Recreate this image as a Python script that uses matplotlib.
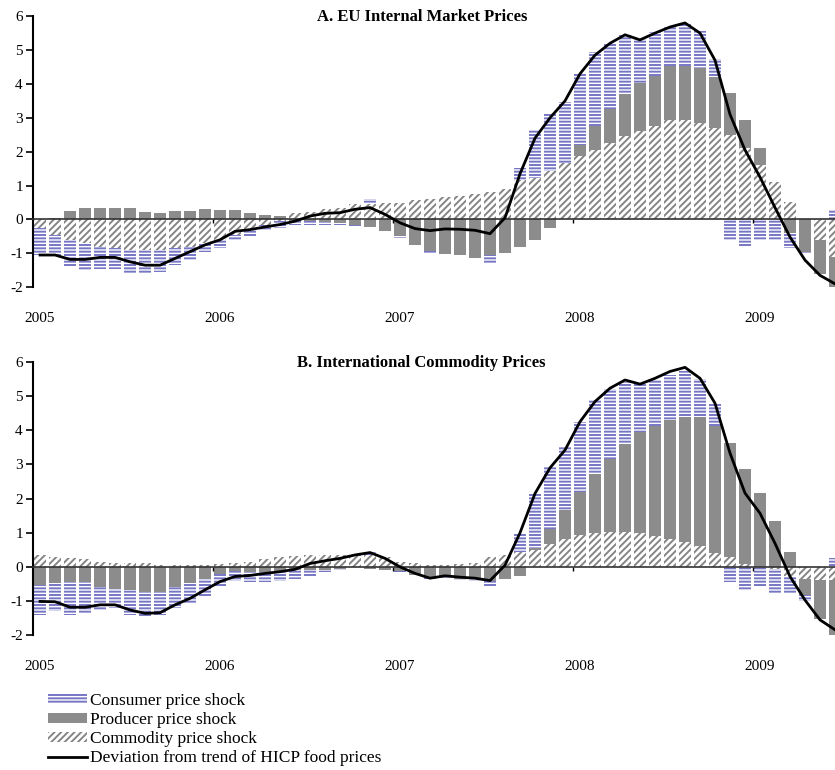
import numpy as np
import matplotlib.pyplot as plt
import matplotlib.transforms as mtransforms
from matplotlib.patches import Patch
from matplotlib.lines import Line2D

plt.rcParams['font.family'] = ['Liberation Serif', 'DejaVu Serif']
plt.rcParams['axes.unicode_minus'] = False
plt.rcParams['hatch.linewidth'] = 1.4

# monthly data, Jan 2005 .. Jun 2009
months = np.arange(54)
years = ['2005', '2006', '2007', '2008', '2009']

# Panel A: EU internal market prices
a_comm = [-0.25, -0.45, -0.6, -0.7, -0.8, -0.85, -0.9, -0.9, -0.9, -0.85,
          -0.8, -0.7, -0.6, -0.45, -0.3, -0.15, -0.05, 0.18, 0.22, 0.3,
          0.35, 0.45, 0.45, 0.5, 0.5, 0.58, 0.6, 0.65, 0.7, 0.75,
          0.82, 0.9, 1.17, 1.22, 1.42, 1.66, 1.86, 2.06, 2.26, 2.45,
          2.6, 2.75, 2.95, 2.95, 2.85, 2.7, 2.5, 2.1, 1.6, 1.1,
          0.52, 0.0, -0.6, -1.1]
a_prod = [0.0, 0.05, 0.25, 0.33, 0.33, 0.33, 0.33, 0.22, 0.2, 0.25,
          0.25, 0.3, 0.28, 0.28, 0.2, 0.12, 0.1, -0.05, -0.05, -0.08,
          -0.1, -0.15, -0.22, -0.35, -0.48, -0.75, -0.92, -1.02, -1.05, -1.15,
          -1.05, -1.0, -0.8, -0.6, -0.25, 0.0, 0.34, 0.7, 1.0, 1.25,
          1.44, 1.49, 1.58, 1.58, 1.63, 1.49, 1.24, 0.85, 0.5, 0.0,
          -0.4, -0.96, -1.0, -1.0]
a_cons = [-0.8, -0.6, -0.8, -0.8, -0.65, -0.6, -0.68, -0.7, -0.65, -0.5,
          -0.4, -0.25, -0.25, -0.15, -0.2, -0.15, -0.2, -0.12, -0.1, -0.08,
          -0.07, -0.03, 0.15, 0.0, -0.07, 0.0, -0.08, 0.0, 0.0, 0.0,
          -0.25, -0.03, 0.35, 1.43, 1.68, 1.8, 2.1, 2.18, 1.95, 1.73,
          1.29, 1.28, 1.14, 1.24, 1.09, 0.54, -0.6, -0.8, -0.6, -0.6,
          -0.45, -0.05, 0.0, 0.28]
a_line = [-1.05, -1.05, -1.18, -1.18, -1.12, -1.12, -1.25, -1.35, -1.35, -1.15,
          -0.95, -0.75, -0.6, -0.35, -0.3, -0.22, -0.15, -0.05, 0.1, 0.18,
          0.2, 0.3, 0.35, 0.15, -0.1, -0.27, -0.33, -0.28, -0.29, -0.32,
          -0.42, 0.05, 1.35, 2.4, 3.0, 3.5, 4.3, 4.85, 5.2, 5.45,
          5.3, 5.5, 5.68, 5.8, 5.5, 4.7, 3.1, 2.05, 1.25, 0.35,
          -0.52, -1.2, -1.65, -1.9]

# Panel B: international commodity prices
b_comm = [0.35, 0.28, 0.25, 0.22, 0.15, 0.12, 0.12, 0.1, 0.07, 0.05,
          0.05, 0.05, 0.08, 0.12, 0.15, 0.22, 0.28, 0.32, 0.35, 0.35,
          0.35, 0.32, 0.35, 0.3, 0.15, 0.1, 0.05, 0.05, 0.08, 0.1,
          0.3, 0.35, 0.45, 0.5, 0.68, 0.83, 0.93, 1.0, 1.02, 1.02,
          0.98, 0.9, 0.83, 0.72, 0.6, 0.42, 0.28, 0.08, 0.0, -0.05,
          -0.28, -0.36, -0.38, -0.38]
b_prod = [-0.53, -0.48, -0.43, -0.43, -0.58, -0.65, -0.68, -0.72, -0.72, -0.6,
          -0.48, -0.35, -0.2, -0.12, -0.15, -0.15, -0.12, -0.1, -0.1, -0.08,
          -0.05, 0.0, -0.05, -0.08, -0.12, -0.25, -0.33, -0.3, -0.35, -0.35,
          -0.4, -0.35, -0.28, 0.05, 0.44, 0.83, 1.27, 1.71, 2.15, 2.59,
          2.97, 3.22, 3.47, 3.68, 3.8, 3.71, 3.35, 2.79, 2.16, 1.33,
          0.45, -0.45, -1.15, -1.66]
b_cons = [-0.87, -0.82, -0.97, -0.95, -0.68, -0.55, -0.72, -0.75, -0.68, -0.6,
          -0.57, -0.5, -0.35, -0.3, -0.3, -0.3, -0.3, -0.25, -0.2, -0.07,
          -0.03, 0.03, 0.1, 0.03, -0.03, 0.0, -0.03, -0.02, -0.02, -0.05,
          -0.18, 0.0, 0.53, 1.6, 1.81, 1.84, 2.04, 2.17, 2.05, 1.8,
          1.42, 1.36, 1.32, 1.32, 1.1, 0.66, -0.43, -0.67, -0.6, -0.72,
          -0.49, -0.2, 0.0, 0.25]
b_line = [-1.01, -1.02, -1.18, -1.18, -1.11, -1.11, -1.26, -1.36, -1.34, -1.11,
          -0.92, -0.67, -0.43, -0.28, -0.25, -0.19, -0.14, -0.07, 0.1, 0.18,
          0.25, 0.35, 0.42, 0.25, 0.0, -0.19, -0.33, -0.26, -0.3, -0.33,
          -0.4, 0.05, 1.0, 2.15, 2.9, 3.42, 4.25, 4.84, 5.23, 5.47,
          5.35, 5.52, 5.72, 5.84, 5.52, 4.79, 3.33, 2.16, 1.57, 0.69,
          -0.28, -0.97, -1.55, -1.84]

cons_col = '#7676c4'
prod_col = '#8c8c8c'
comm_col = '#858585'

# (facecolor, edgecolor, hatch) for commodity, producer, consumer
styles = [('white', comm_col, '/////'),
          (prod_col, prod_col, None),
          ('white', cons_col, '-----')]


def draw_panel(ax, comm, prod, cons, line, title):
    pos = np.zeros(len(months))
    neg = np.zeros(len(months))
    for vals, (fc, ec, h) in zip([comm, prod, cons], styles):
        v = np.array(vals)
        base = np.where(v >= 0, pos, neg)
        ax.bar(months, v, 0.76, bottom=base, color=fc, edgecolor=ec,
               hatch=h, linewidth=0, zorder=1)
        pos = pos + np.clip(v, 0, None)
        neg = neg + np.clip(v, None, 0)
    ax.plot(months, line, color='black', lw=2, zorder=4)

    ax.set_xlim(-0.5, 53)
    ax.set_ylim(-2, 6)
    ax.set_yticks(range(-2, 7))
    ax.tick_params(axis='y', length=5, width=1.2, labelsize=11, pad=2)
    for s in ['top', 'right']:
        ax.spines[s].set_visible(False)
    ax.spines['left'].set_linewidth(1.5)
    ax.spines['bottom'].set_position(('data', 0))
    ax.spines['bottom'].set_linewidth(1.2)
    ax.spines['bottom'].set_color('#333333')
    ax.set_xticks([11.5, 23.5, 35.5, 47.5])
    ax.set_xticklabels([])
    ax.tick_params(axis='x', length=3, width=1)

    trans = mtransforms.blended_transform_factory(ax.transData, ax.transAxes)
    for k, yr in enumerate(years):
        ax.text(12 * k, -0.115, yr, transform=trans, ha='center',
                va='center', fontsize=11)
    ax.text(0.485, 0.997, title, transform=ax.transAxes, ha='center',
            va='center', fontsize=12, fontweight='bold')


fig = plt.figure(figsize=(8.35, 7.7), dpi=100)
ax1 = fig.add_axes([0.039, 0.627, 0.961, 0.352])
ax2 = fig.add_axes([0.039, 0.175, 0.961, 0.355])

draw_panel(ax1, a_comm, a_prod, a_cons, a_line, 'A. EU Internal Market Prices')
draw_panel(ax2, b_comm, b_prod, b_cons, b_line, 'B. International Commodity Prices')

handles = [Patch(facecolor='white', edgecolor=cons_col, hatch='-----', linewidth=0),
           Patch(facecolor=prod_col, edgecolor=prod_col, linewidth=0),
           Patch(facecolor='white', edgecolor=comm_col, hatch='/////', linewidth=0),
           Line2D([0], [0], color='black', lw=2)]
labels = ['Consumer price shock', 'Producer price shock',
          'Commodity price shock', 'Deviation from trend of HICP food prices']
fig.legend(handles, labels, loc='upper left', bbox_to_anchor=(0.058, 0.1),
           frameon=False, fontsize=12.5, handlelength=2.2, handleheight=0.55,
           handletextpad=0.2, labelspacing=0.18, borderpad=0, borderaxespad=0)

fig.savefig('out.png', dpi=100)
